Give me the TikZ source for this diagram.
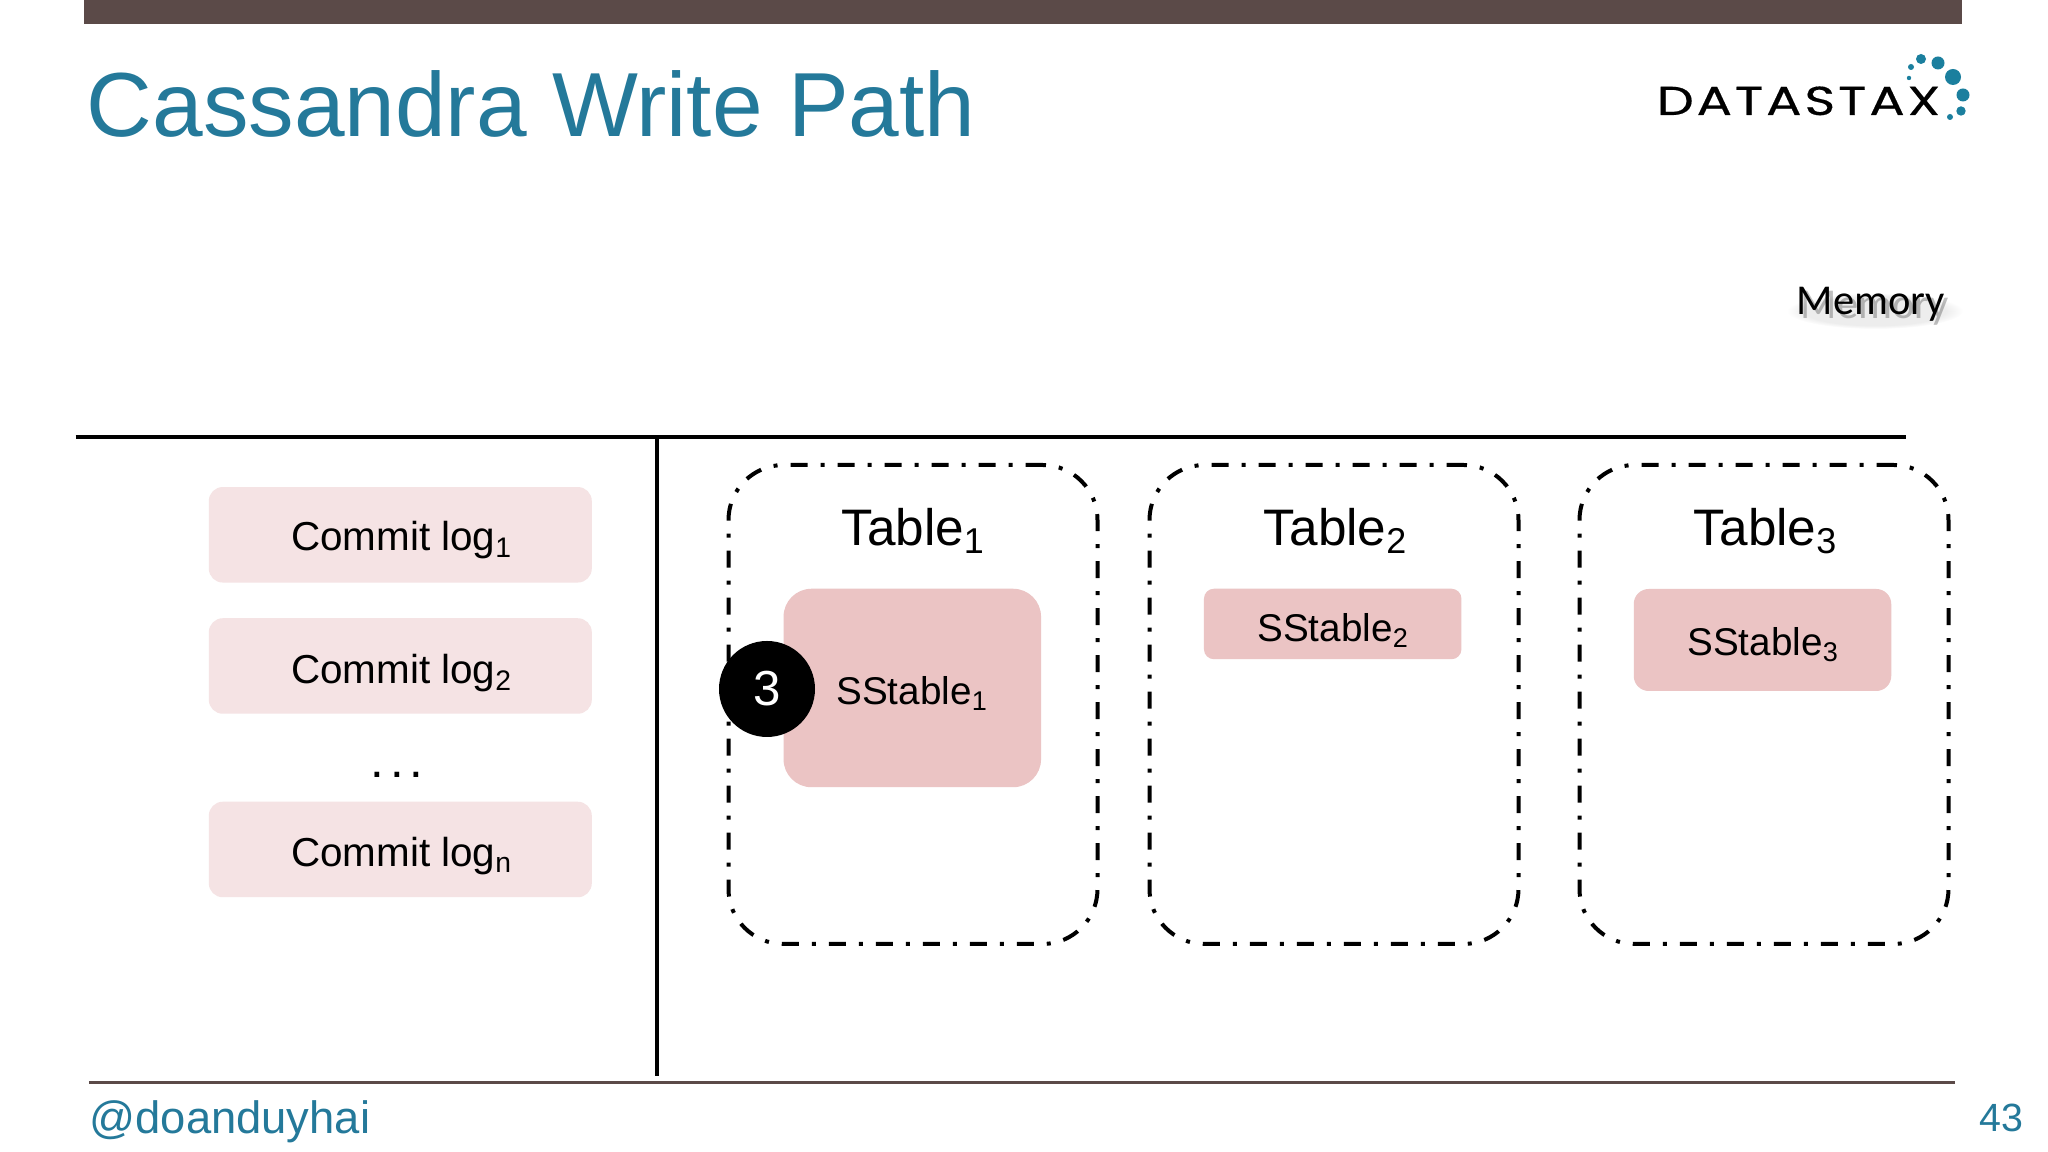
\documentclass[tikz,border=0pt]{standalone}
\usepackage{fontspec}
\usetikzlibrary{fadings}
\setmainfont{Liberation Sans}
\newfontfamily\memoryfont{Carlito}
\newfontfamily\logofont[LetterSpace=7,FakeStretch=1.3,FakeBold=0.4]{Poppins}
\definecolor{slidebar}{HTML}{5B4A48}
\definecolor{slideblue}{HTML}{24799A}
\definecolor{logoblue}{HTML}{1B7F9E}
\definecolor{commitpink}{HTML}{F5E3E4}
\definecolor{sstablepink}{HTML}{EBC4C4}
\tikzset{
  commitbox/.style={fill=commitpink, rounded corners=0.14cm, minimum width=3.83cm, minimum height=0.955cm, inner sep=0pt},
  sstablebox/.style={fill=sstablepink, minimum width=2.575cm, inner sep=0pt},
  tablebox/.style={draw, line width=0.04cm, rounded corners=0.55cm, minimum width=3.69cm, minimum height=4.79cm, inner sep=0pt,
    dash pattern=on 0.17cm off 0.13cm on 0.04cm off 0.13cm},
  committext/.style={anchor=base, font=\fontsize{11.5}{13}\selectfont},
  boxtext/.style={anchor=base, font=\fontsize{11}{13}\selectfont},
  tabletext/.style={anchor=base, font=\fontsize{14.6}{17}\selectfont},
  memorytext/.style={anchor=base, font=\fontsize{12.1}{15}\memoryfont},
  logodot/.style={fill=logoblue}
}
\begin{document}
\begin{tikzpicture}
  \useasboundingbox (0,0) rectangle (20.48,11.52);
  \fill[fill=white] (0,0) rectangle (20.48,11.52);

  % slide frame
  \fill[slidebar] (0.836,11.28) rectangle (19.616,11.52);
  \node (title) [anchor=base west, inner sep=0pt, text=slideblue, font=\fontsize{25.9}{31}\selectfont] at (0.86,10.15) {Cassandra Write Path};
  \node (twitter) [anchor=base west, inner sep=0pt, text=slideblue, font=\fontsize{12.9}{16}\selectfont] at (0.89,0.185) {@doanduyhai};
  \node (page) [anchor=base east, inner sep=0pt, text=slideblue, font=\fontsize{11.2}{14}\selectfont] at (20.24,0.20) {43};
  \coordinate (footleft) at (0.888,0.693);
  \coordinate (footright) at (19.55,0.693);
  \draw[slidebar, line width=0.025cm] (footleft) -- (footright);

  % logo
  \node (logo) [anchor=base west, inner sep=0pt, font=\fontsize{11.5}{13}\logofont] at (16.56,10.37) {DATASTAX};
  \fill[logodot] (19.21,10.93) circle (0.05);
  \fill[logodot] (19.38,10.89) circle (0.065);
  \fill[logodot] (19.53,10.75) circle (0.08);
  \fill[logodot] (19.63,10.57) circle (0.065);
  \fill[logodot] (19.61,10.41) circle (0.047);
  \fill[logodot] (19.50,10.35) circle (0.03);
  \fill[logodot] (19.11,10.85) circle (0.03);
  \fill[logodot] (19.09,10.74) circle (0.022);

  % memory label with its soft shadow
  \fill[black, opacity=0.07, path fading=circle with fuzzy edge 20 percent] (18.75,8.41) ellipse (0.88 and 0.18);
  \node (memshadow) [memorytext, text=black, opacity=0.25] at (18.75,8.33) {Memory};
  \node (memory) [memorytext] at (18.71,8.37) {Memory};

  % separators
  \coordinate (ruleleft) at (0.757,7.145);
  \coordinate (ruleright) at (19.055,7.145);
  \coordinate (ruletop) at (6.57,7.145);
  \coordinate (rulebottom) at (6.57,0.76);
  \draw[line width=0.04cm] (ruleleft) -- (ruleright);
  \draw[line width=0.04cm] (ruletop) -- (rulebottom);

  % commit logs
  \node (logone) [commitbox] at (4.003,6.172) {};
  \node (logtwo) [commitbox] at (4.003,4.86) {};
  \node (logn) [commitbox] at (4.003,3.025) {};
  \node (logonetext) [committext] at (4.02,6.01) {Commit log\textsubscript{1}};
  \node (logtwotext) [committext] at (4.02,4.68) {Commit log\textsubscript{2}};
  \node (logntext) [committext] at (4.02,2.855) {Commit log\textsubscript{n}};
  \node (logdots) [anchor=base, font=\fontsize{14}{16}\selectfont] at (3.97,3.74) {.\hspace{0.055cm}.\hspace{0.055cm}.};

  % tables
  \node (tableone) [tablebox] at (9.13,4.475) {};
  \node (tabletwo) [tablebox] at (13.34,4.475) {};
  \node (tablethree) [tablebox] at (17.64,4.475) {};
  \node (tableonetext) [tabletext] at (9.135,6.06) {Table\textsubscript{1}};
  \node (tabletwotext) [tabletext] at (13.36,6.06) {Table\textsubscript{2}};
  \node (tablethreetext) [tabletext] at (17.66,6.06) {Table\textsubscript{3}};

  % sstables
  \node (sstableone) [sstablebox, rounded corners=0.28cm, minimum height=1.985cm] at (9.123,4.64) {};
  \node (sstabletwo) [sstablebox, rounded corners=0.10cm, minimum height=0.705cm] at (13.327,5.28) {};
  \node (sstablethree) [sstablebox, rounded corners=0.15cm, minimum height=1.02cm] at (17.625,5.12) {};
  \node (sstableonetext) [boxtext] at (9.125,4.47) {SStable\textsubscript{1}};
  \node (sstabletwotext) [boxtext] at (13.335,5.10) {SStable\textsubscript{2}};
  \node (sstablethreetext) [boxtext] at (17.635,4.96) {SStable\textsubscript{3}};

  % step marker
  \node (stepmark) [circle, fill=black, text=white, minimum size=0.96cm, inner sep=0pt, font=\fontsize{14}{16}\selectfont] at (7.67,4.63) {\raisebox{-0.04cm}{3}};
\end{tikzpicture}
\end{document}
